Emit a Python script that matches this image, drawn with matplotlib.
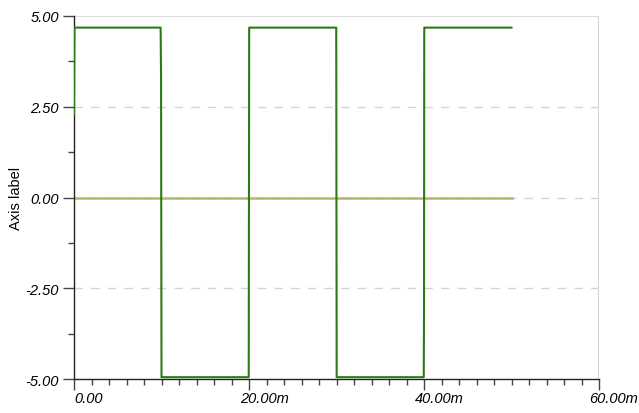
import matplotlib
matplotlib.use("Agg")
import matplotlib.pyplot as plt
from matplotlib.ticker import MultipleLocator
from matplotlib.transforms import ScaledTranslation

# time in ms
t_sq = [0.0, 0.05, 9.9, 9.95, 10.0, 10.05, 19.97, 20.02, 29.97, 30.02, 39.97, 40.0, 40.03, 40.08, 50.0]
v_sq = [2.3, 4.68, 4.68, 3.3, -4.95, -4.95, -4.95, 4.68, 4.68, -4.95, -4.95, -3.3, 4.68, 4.68, 4.68]

t_zero = [0.0, 50.0]
v_zero = [0.0, 0.0]

y_ticks = [-5.0, -2.5, 0.0, 2.5, 5.0]
y_labels = ["-5.00", "-2.50", "0.00", "2.50", "5.00"]
x_ticks = [0, 20, 40, 60]
x_labels = ["0.00", "20.00m", "40.00m", "60.00m"]

plt.rcParams['font.family'] = ['Liberation Sans', 'DejaVu Sans']

fig = plt.figure(figsize=(6.39, 4.14), dpi=100)
ax = fig.add_axes([74/639, 1-380/414, 525/639, 363/414])

# grid
for y in [2.5, 0.0, -2.5]:
    ax.axhline(y, color='#d4d4d4', lw=1, ls=(0, (6, 6)), zorder=0)
ax.axhline(5.0, color='#d4d4d4', lw=1.2, zorder=0)
ax.axvline(60, color='#d4d4d4', lw=1.5, zorder=0)

ax.plot(t_zero, v_zero, color='#b5b56e', lw=1.8, zorder=2)
ax.plot(t_sq, v_sq, color='#2d7a14', lw=1.5, zorder=3)

ax.set_xlim(0, 60)
ax.set_ylim(-5, 5)
ax.set_xticks(x_ticks, labels=x_labels, fontstyle='italic', fontsize=10.5)
ax.set_yticks(y_ticks, labels=y_labels, fontstyle='italic', fontsize=10.5)
ax.xaxis.set_minor_locator(MultipleLocator(2))
ax.yaxis.set_minor_locator(MultipleLocator(1.25))

for s in ['top', 'right']:
    ax.spines[s].set_visible(False)
for s in ['left', 'bottom']:
    ax.spines[s].set_color('#222222')
    ax.spines[s].set_linewidth(1.0)

ax.tick_params(axis='both', which='major', length=8, width=1, color='#444444')
ax.tick_params(axis='both', which='minor', length=4, width=1, color='#444444')
ax.tick_params(axis='x', which='major', pad=1)
ax.tick_params(axis='y', which='major', pad=3)

offset = ScaledTranslation(15/100, 0, fig.dpi_scale_trans)
for lab in ax.get_xticklabels():
    lab.set_transform(lab.get_transform() + offset)

ax.set_ylabel("Axis label", fontsize=10.5)
ax.yaxis.set_label_coords(-51/525, 0.5)

fig.savefig("out.png", dpi=100)
